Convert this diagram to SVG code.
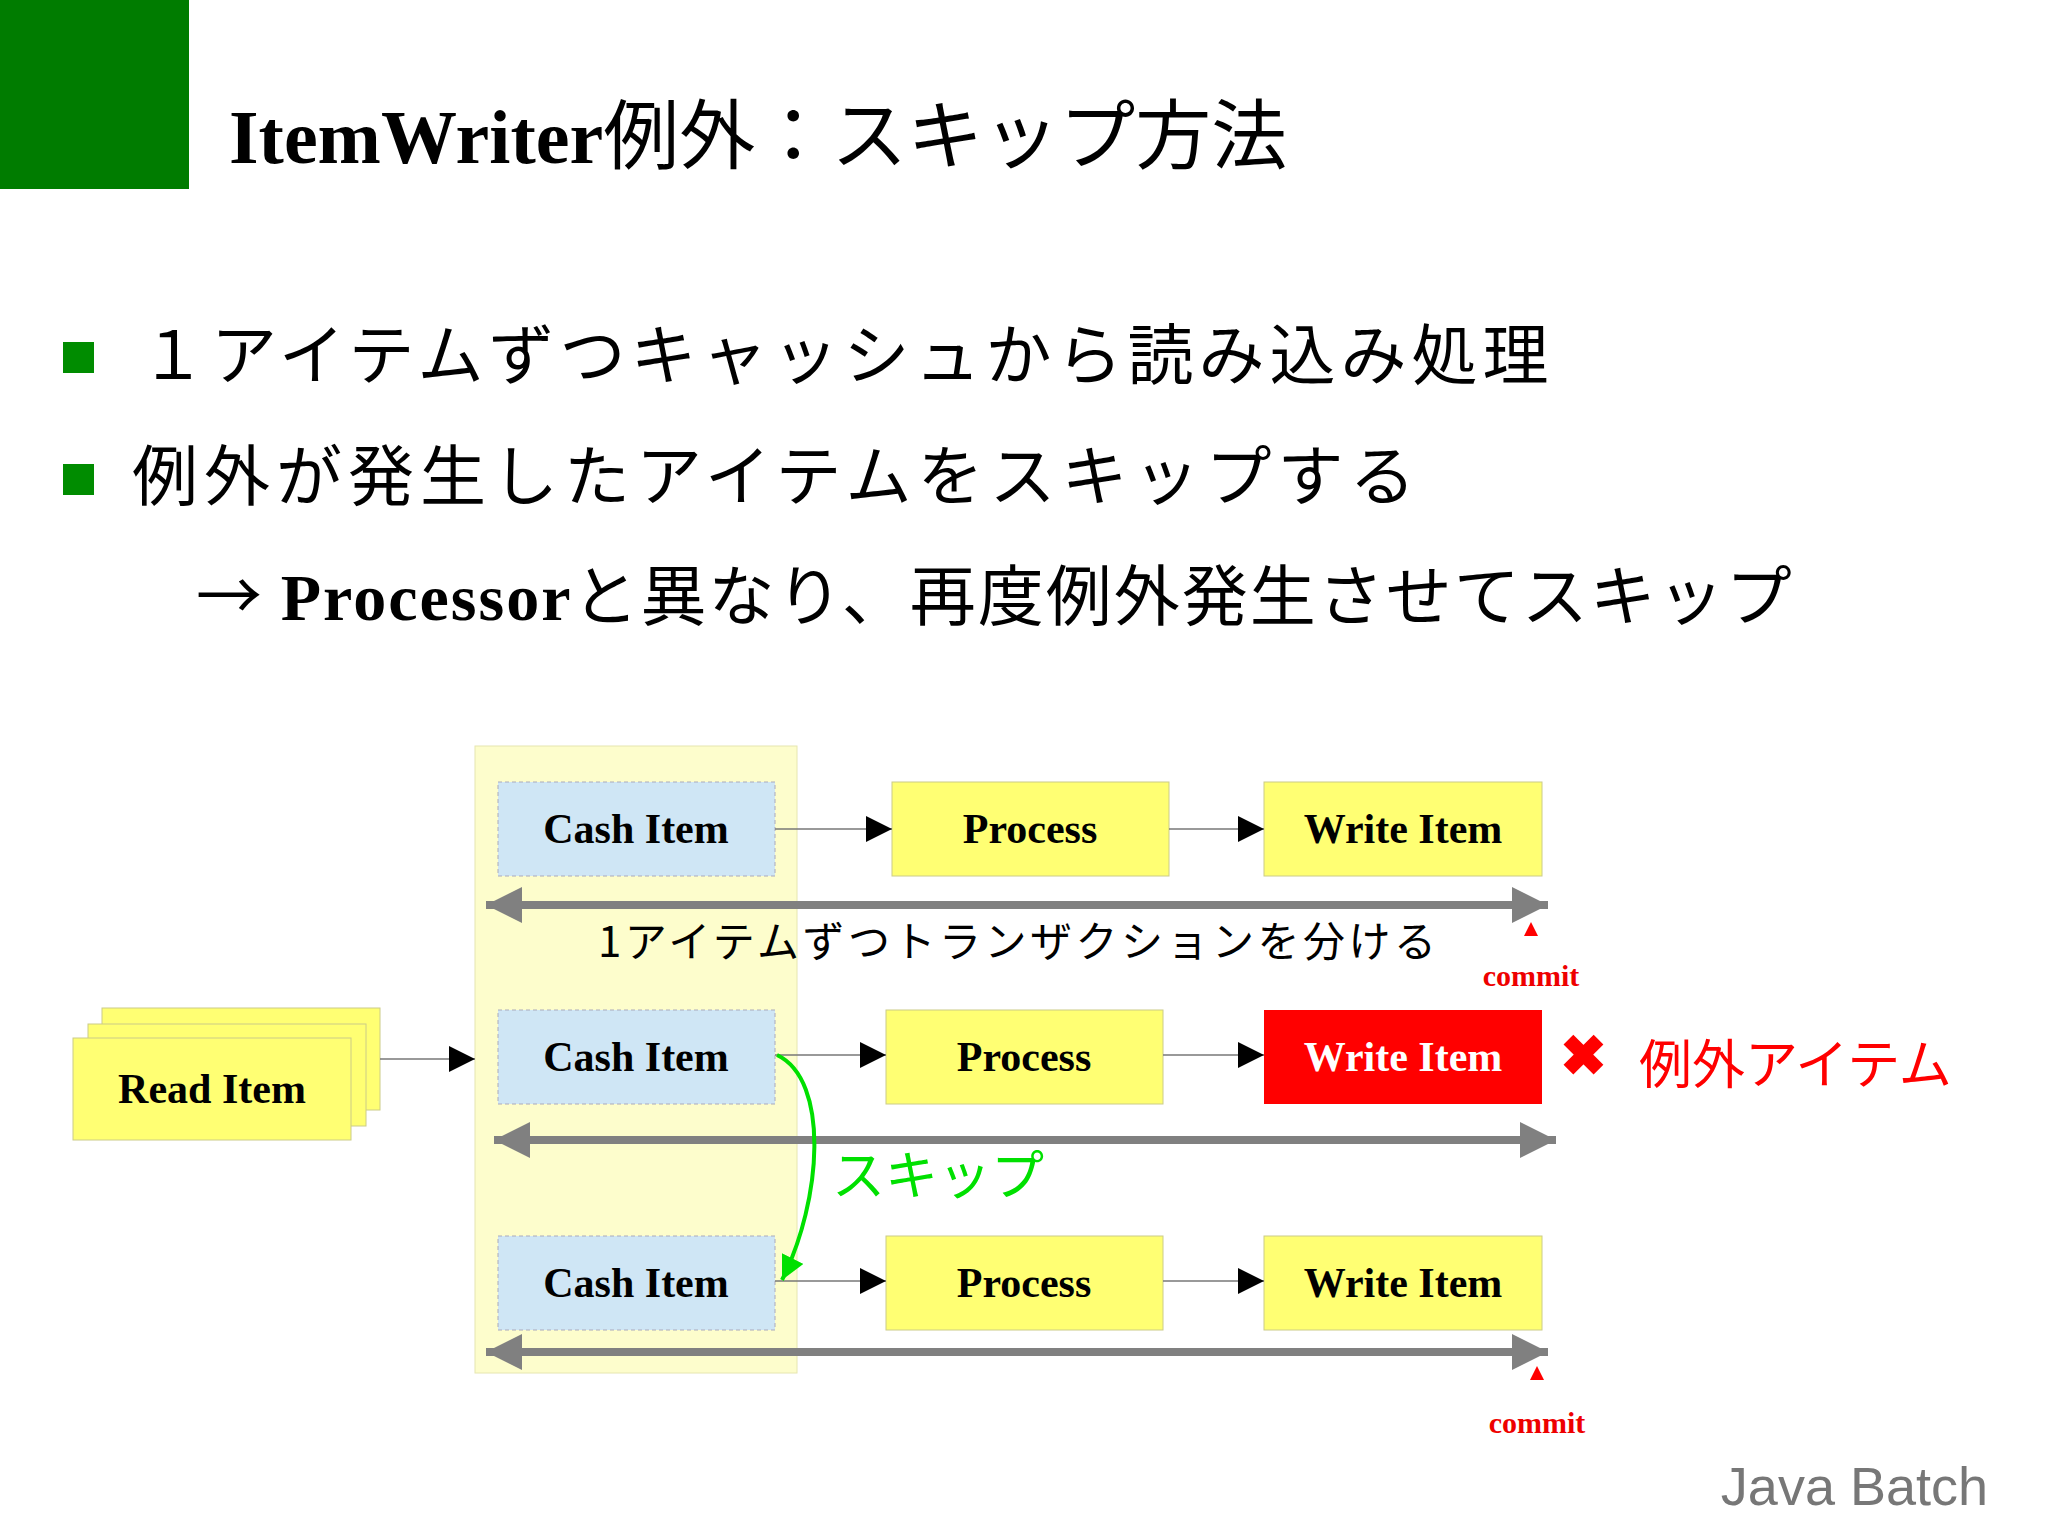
<svg xmlns="http://www.w3.org/2000/svg" width="2048" height="1535" viewBox="0 0 2048 1535">
<style>
.jp{font-family:"Noto Sans CJK JP","Noto Sans",sans-serif}
.fr{font-family:"Liberation Serif",serif;font-weight:bold;font-size:42px;text-anchor:middle}
.cash{fill:#cfe6f5;stroke:#aab;stroke-dasharray:4 3}
.yel{fill:#ffff73;stroke:#cccc88}
.thin{stroke:#777;stroke-width:1.5;fill:none}
.dbl{stroke:#808080;stroke-width:8;marker-start:url(#gs);marker-end:url(#ge)}
</style>
<defs>
<marker id="ah" viewBox="0 0 10 10" refX="10" refY="5" markerWidth="32" markerHeight="26" markerUnits="userSpaceOnUse" orient="auto"><path d="M0,0L10,5L0,10z" fill="#000"/></marker>
<marker id="ge" viewBox="0 0 10 10" refX="10" refY="5" markerWidth="4.5" markerHeight="6" orient="auto"><path d="M0,0L10,5L0,10z" fill="#808080"/></marker>
<marker id="gs" viewBox="0 0 10 10" refX="0" refY="5" markerWidth="4.5" markerHeight="6" orient="auto"><path d="M10,0L0,5L10,10z" fill="#808080"/></marker>
<marker id="gr" viewBox="0 0 10 10" refX="10" refY="5" markerWidth="6" markerHeight="6" orient="auto"><path d="M0,0L10,5L0,10z" fill="#00e000"/></marker>
</defs>
<rect width="2048" height="1535" fill="#fff"/>
<rect x="0" y="0" width="189" height="189" fill="#007c00"/>
<text x="229" y="163" font-size="76" font-family="'Liberation Serif','Noto Sans CJK JP',serif" font-weight="bold">ItemWriter<tspan class="jp" font-weight="normal">例外：スキップ方法</tspan></text>
<rect x="63" y="342" width="31" height="31" fill="#008c00"/>
<rect x="63" y="464" width="31" height="31" fill="#008c00"/>
<text class="jp" x="140" y="379" font-size="66" letter-spacing="5">１アイテムずつキャッシュから読み込み処理</text>
<text class="jp" x="132" y="500" font-size="66" letter-spacing="6">例外が発生したアイテムをスキップする</text>
<text class="jp" x="196" y="620" font-size="66" letter-spacing="2">→ <tspan font-family="'Liberation Serif',serif" font-weight="bold">Processor</tspan>と異なり、再度例外発生させてスキップ</text>
<rect x="475" y="746" width="322" height="627" fill="#fdfdcc" stroke="#e6e6b0"/>
<g id="read">
<rect class="yel" x="102" y="1008" width="278" height="102"/>
<rect class="yel" x="88" y="1024" width="278" height="102"/>
<rect class="yel" x="73" y="1038" width="278" height="102"/>
<text class="fr" x="212" y="1103">Read Item</text>
</g>
<g id="cash1"><rect class="cash" x="498" y="782" width="277" height="94"/><text class="fr" x="636" y="843">Cash Item</text></g>
<g id="cash2"><rect class="cash" x="498" y="1010" width="277" height="94"/><text class="fr" x="636" y="1071">Cash Item</text></g>
<g id="cash3"><rect class="cash" x="498" y="1236" width="277" height="94"/><text class="fr" x="636" y="1297">Cash Item</text></g>
<g id="proc1"><rect class="yel" x="892" y="782" width="277" height="94"/><text class="fr" x="1030" y="843">Process</text></g>
<g id="proc2"><rect class="yel" x="886" y="1010" width="277" height="94"/><text class="fr" x="1024" y="1071">Process</text></g>
<g id="proc3"><rect class="yel" x="886" y="1236" width="277" height="94"/><text class="fr" x="1024" y="1297">Process</text></g>
<g id="write1"><rect class="yel" x="1264" y="782" width="278" height="94"/><text class="fr" x="1403" y="843">Write Item</text></g>
<g id="write2"><rect x="1264" y="1010" width="278" height="94" fill="#ff0000"/><text class="fr" x="1403" y="1071" fill="#fff">Write Item</text></g>
<g id="write3"><rect class="yel" x="1264" y="1236" width="278" height="94"/><text class="fr" x="1403" y="1297">Write Item</text></g>
<g id="connectors">
<line class="thin" x1="380" y1="1059" x2="475" y2="1059" marker-end="url(#ah)"/>
<line class="thin" x1="775" y1="829" x2="892" y2="829" marker-end="url(#ah)"/>
<line class="thin" x1="1169" y1="829" x2="1264" y2="829" marker-end="url(#ah)"/>
<line class="thin" x1="775" y1="1055" x2="886" y2="1055" marker-end="url(#ah)"/>
<line class="thin" x1="1163" y1="1055" x2="1264" y2="1055" marker-end="url(#ah)"/>
<line class="thin" x1="775" y1="1281" x2="886" y2="1281" marker-end="url(#ah)"/>
<line class="thin" x1="1163" y1="1281" x2="1264" y2="1281" marker-end="url(#ah)"/>
<line class="dbl" x1="486" y1="905" x2="1548" y2="905"/>
<line class="dbl" x1="494" y1="1140" x2="1556" y2="1140"/>
<line class="dbl" x1="486" y1="1352" x2="1548" y2="1352"/>
<path d="M777,1055 C830,1080 822,1200 782,1280" fill="none" stroke="#00e000" stroke-width="4" marker-end="url(#gr)"/>
</g>
<text class="jp" x="598" y="957" font-size="42" letter-spacing="3.5">1アイテムずつトランザクションを分ける</text>
<path d="M1531,922 L1538,936 L1524,936z" fill="#f00"/>
<text x="1531" y="986" font-family="'Liberation Serif',serif" font-weight="bold" font-size="30" fill="#e00" text-anchor="middle">commit</text>
<path d="M1537,1366 L1544,1380 L1530,1380z" fill="#f00"/>
<text x="1537" y="1433" font-family="'Liberation Serif',serif" font-weight="bold" font-size="30" fill="#e00" text-anchor="middle">commit</text>
<text class="jp" x="1583" y="1075" font-size="56" fill="#f00" text-anchor="middle" font-weight="bold">✖</text>
<text class="jp" x="1639" y="1084" font-size="53" fill="#f00">例外アイテム</text>
<text class="jp" x="832" y="1195" font-size="53" fill="#00e000">スキップ</text>
<text x="1988" y="1505" font-family="'Liberation Sans',sans-serif" font-size="54" fill="#777" text-anchor="end">Java Batch</text>
</svg>
